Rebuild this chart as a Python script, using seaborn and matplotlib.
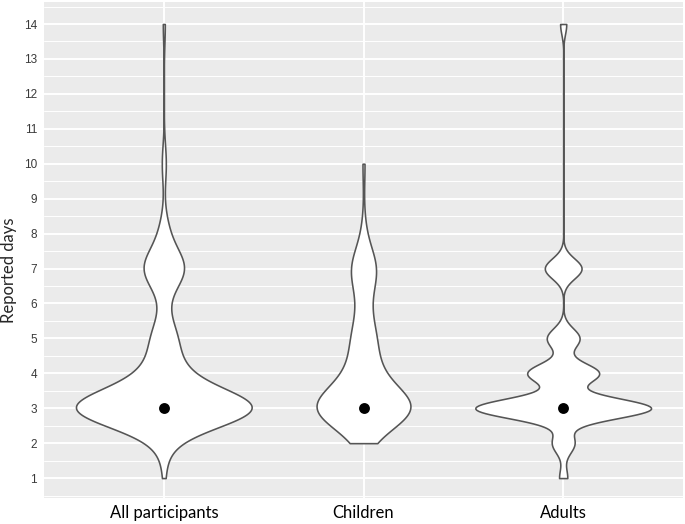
import numpy as np
import pandas as pd
import matplotlib
matplotlib.use("Agg")
import matplotlib.pyplot as plt
import seaborn as sns

GROUPS = ["All participants", "Children", "Adults"]
DAYS = np.arange(1, 15)

# respondents per reported day (1..14)
ALL_COUNTS = [1, 4, 84, 15, 11, 2, 19, 4, 0, 2, 0, 0, 0, 1]
CHILD_COUNTS = [0, 6, 86, 22, 19, 8, 22, 3, 0, 2, 0, 0, 0, 0]
ADULT_COUNTS = [4, 11, 86, 35, 16, 0, 18, 0, 0, 0, 0, 0, 0, 3]

# kernel bandwidth (in days) and max violin width per group
BANDWIDTH = {"All participants": 0.55, "Children": 0.6, "Adults": 0.29}
VIOLIN_WIDTH = {"All participants": 0.88, "Children": 0.47, "Adults": 0.88}


def expand(group, counts):
    return pd.DataFrame({"group": group, "days": np.repeat(DAYS, counts)})


df = pd.concat([
    expand("All participants", ALL_COUNTS),
    expand("Children", CHILD_COUNTS),
    expand("Adults", ADULT_COUNTS),
], ignore_index=True)

sns.set_style("darkgrid", {"axes.facecolor": "#EBEBEB", "grid.color": "white"})
plt.rcParams["font.family"] = ["Liberation Sans", "DejaVu Sans"]

fig = plt.figure(figsize=(6.85, 5.24), dpi=100)
ax = fig.add_axes([44 / 685, 1 - 498 / 524, 639 / 685, 496 / 524])

for g in GROUPS:
    sub = df[df["group"] == g]
    sns.violinplot(data=sub, x="group", y="days", order=GROUPS, ax=ax,
                   cut=0, inner=None, density_norm="width",
                   width=VIOLIN_WIDTH[g],
                   bw_method=BANDWIDTH[g] / sub["days"].std(ddof=1),
                   color="white", linecolor="#555555", linewidth=1.15,
                   gridsize=400)

# median dot per group
sns.pointplot(data=df, x="group", y="days", order=GROUPS, ax=ax,
              estimator="median", errorbar=None, linestyle="none",
              color="black", markersize=5.8, zorder=5)

ax.set_xlim(-0.6, 2.6)
ax.set_ylim(0.43, 14.63)
ax.set_yticks(DAYS)
ax.set_yticks(np.arange(0.5, 14.6, 1.0), minor=True)
ax.grid(which="major", color="white", linewidth=1.4)
ax.grid(which="minor", axis="y", color="white", linewidth=0.7)
ax.set_axisbelow(True)
for s in ax.spines.values():
    s.set_visible(False)

ax.tick_params(axis="y", which="major", length=3, width=0.8, color="#333333",
               labelsize=8.5, labelcolor="#3a3a3a", pad=2)
ax.tick_params(axis="y", which="minor", length=0)
ax.tick_params(axis="x", length=0, pad=5)
for lab in ax.get_xticklabels():
    lab.set_fontfamily(["Lato", "DejaVu Sans"])
    lab.set_fontsize(12)
    lab.set_color("black")

ax.set_xlabel("")
ax.set_ylabel("Reported days", fontsize=12, family=["Lato", "DejaVu Sans"])
ax.yaxis.set_label_coords(-0.042, 0.46)

plt.savefig("out.png", dpi=100)
